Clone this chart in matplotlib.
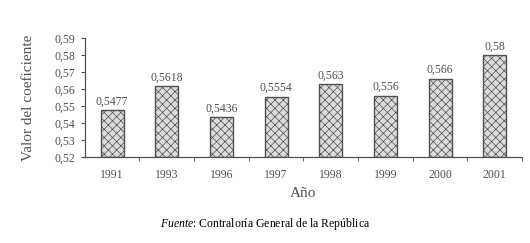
import numpy as np
import matplotlib
matplotlib.use('Agg')
import matplotlib.pyplot as plt

years = ['1991', '1993', '1996', '1997', '1998', '1999', '2000', '2001']
values = [0.5477, 0.5618, 0.5436, 0.5554, 0.563, 0.556, 0.566, 0.58]
value_labels = ['0,5477', '0,5618', '0,5436', '0,5554', '0,563', '0,556', '0,566', '0,58']
y_ticks = [0.52, 0.53, 0.54, 0.55, 0.56, 0.57, 0.58, 0.59]
y_tick_labels = ['0,52', '0,53', '0,54', '0,55', '0,56', '0,57', '0,58', '0,59']

plt.rcParams['font.family'] = ['Liberation Serif', 'DejaVu Serif']
plt.rcParams['mathtext.fontset'] = 'custom'
plt.rcParams['mathtext.it'] = 'Liberation Serif:italic'
plt.rcParams['mathtext.rm'] = 'Liberation Serif'
plt.rcParams['hatch.color'] = '#b0b0b0'
plt.rcParams['hatch.linewidth'] = 0.5

fig = plt.figure(figsize=(5.3, 2.43), dpi=100)
ax = fig.add_axes([0.160, 0.354, 0.825, 0.490])

x = np.arange(len(years))
bars = ax.bar(x, np.array(values) - 0.52, bottom=0.52, width=0.42,
              facecolor='#dcdcdc', edgecolor='#505050', linewidth=1.0, hatch='xxxx')

for xi, v, lab in zip(x, values, value_labels):
    ax.text(xi, v + 0.0015, lab, ha='center', va='bottom', fontsize=8.5, color='#505050')

ax.set_xlim(-0.5, len(years) - 0.5)
ax.set_ylim(0.52, 0.59)
ax.set_yticks(y_ticks)
ax.set_yticklabels(y_tick_labels, fontsize=8.5, color='#505050')
ax.set_xticks(x)
ax.set_xticklabels(years, fontsize=8.5, color='#505050')
ax.tick_params(axis='x', length=0, pad=9)
ax.set_xticks(np.arange(len(years)) + 0.5, minor=True)
ax.tick_params(axis='x', which='minor', length=3, color='#505050')
ax.tick_params(axis='y', length=3, color='#505050', pad=4)

for s in ['top', 'right']:
    ax.spines[s].set_visible(False)
for s in ['left', 'bottom']:
    ax.spines[s].set_color('#505050')
    ax.spines[s].set_linewidth(0.9)

ax.set_ylabel('Valor del coeficiente', fontsize=11, color='#505050', labelpad=14)
ax.set_xlabel('Año', fontsize=11, color='#505050', labelpad=4)

fig.text(0.5, 0.045, r'$\it{Fuente}$: Contraloría General de la República',
         fontsize=8.5, ha='center', va='bottom')

fig.savefig('out.png', dpi=100)
